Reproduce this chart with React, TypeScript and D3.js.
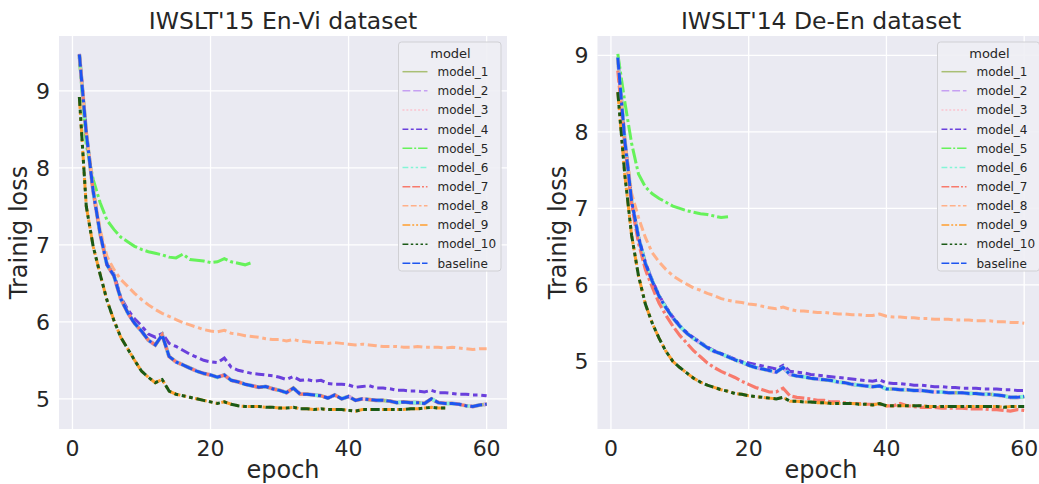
import React from "react";
import * as d3 from "d3";

// legend / hue order
const models = ["model_1", "model_2", "model_3", "model_4", "model_5", "model_6", "model_7", "model_8", "model_9", "model_10", "baseline"];
const colors = ["#a9bf74", "#c6a0f2", "#fbc3ce", "#6a40dc", "#66f25a", "#84f5d6", "#f87a6c", "#ffb088", "#ff9f2e", "#1b5a16", "#1d55f0"];
// seaborn default style dashes (in units of line width)
const dashes = [
  [],
  [4, 1.5],
  [1, 1],
  [3, 1.25, 1.5, 1.25],
  [5, 1, 1, 1],
  [3, 1.25, 1.25, 1.25, 1.25, 1.25],
  [4, 1, 4, 1, 1, 1],
  [3, 1.25, 3, 1.25, 1.25, 1.25],
  [4, 1, 1, 1, 1, 1],
  [3, 1.25, 1.25, 1.25, 1.25, 1.25, 1.25, 1.25],
  [4, 1, 4, 1, 4, 1, 1, 1],
];
// light lines drawn a touch wider so they show as a halo under the blue one
const widths = [3.6, 3.8, 3.8, 3, 3, 3.6, 3.2, 3, 3, 3, 3];

const xTicks = [0, 20, 40, 60];

// ---- IWSLT'15 En-Vi (training loss per epoch, epoch 1..n) ----
const enviGroupA = [
  9.47, 8.45, 7.7, 7.15, 6.74, 6.6, 6.3, 6.12, 5.98, 5.88,
  5.76, 5.7, 5.83, 5.55, 5.48, 5.44, 5.4, 5.36, 5.33, 5.31,
  5.28, 5.31, 5.24, 5.22, 5.19, 5.17, 5.15, 5.16, 5.13, 5.11,
  5.08, 5.14, 5.06, 5.06, 5.05, 5.04, 5.01, 5.05, 5.0, 5.03,
  4.98, 5.0, 4.99, 4.98, 4.98, 4.97, 4.95, 4.96, 4.95, 4.95,
  4.94, 5.0, 4.95, 4.94, 4.94, 4.93, 4.91, 4.9, 4.92, 4.93,
];
const enviModel4 = [
  9.48, 8.46, 7.71, 7.16, 6.75, 6.62, 6.32, 6.16, 6.04, 5.95,
  5.84, 5.8, 5.85, 5.72, 5.68, 5.63, 5.58, 5.54, 5.5, 5.48,
  5.47, 5.53, 5.41, 5.37, 5.35, 5.33, 5.32, 5.31, 5.3, 5.28,
  5.25, 5.29, 5.24, 5.25, 5.23, 5.24, 5.2, 5.19, 5.19, 5.18,
  5.15, 5.16, 5.17, 5.14, 5.14, 5.13, 5.11, 5.11, 5.1, 5.1,
  5.09, 5.11, 5.08, 5.08, 5.07, 5.06, 5.06, 5.05, 5.05, 5.04,
];
const enviModel5 = [
  9.43, 8.3, 7.85, 7.55, 7.32, 7.2, 7.1, 7.04, 6.98, 6.94,
  6.91, 6.89, 6.87, 6.84, 6.83, 6.88, 6.81, 6.8, 6.79, 6.77,
  6.78, 6.82, 6.78, 6.76, 6.74, 6.77,
];
const enviModel8 = [
  9.46, 8.48, 7.75, 7.2, 6.85, 6.68, 6.55, 6.46, 6.37, 6.29,
  6.22, 6.16, 6.11, 6.07, 6.03, 5.99, 5.96, 5.93, 5.9, 5.88,
  5.87, 5.89, 5.85, 5.84, 5.82, 5.81, 5.8, 5.78, 5.77, 5.77,
  5.75, 5.77, 5.75, 5.74, 5.73, 5.73, 5.72, 5.73, 5.72, 5.71,
  5.7, 5.71, 5.7, 5.69, 5.68, 5.68, 5.68, 5.67, 5.67, 5.68,
  5.67, 5.67, 5.67, 5.66, 5.67, 5.66, 5.65, 5.64, 5.65, 5.65,
];
const enviGroupB = [
  8.92, 7.5, 6.98, 6.62, 6.28, 6.02, 5.8, 5.65, 5.5, 5.36,
  5.28, 5.21, 5.25, 5.1, 5.06, 5.04, 5.02, 5.0, 4.98, 4.96,
  4.94, 4.96, 4.93, 4.91, 4.9, 4.9, 4.9, 4.89, 4.89, 4.88,
  4.88, 4.89, 4.87, 4.87, 4.86, 4.87, 4.86, 4.86, 4.86, 4.85,
  4.84, 4.86, 4.86, 4.86, 4.86, 4.86, 4.86, 4.86, 4.87, 4.87,
  4.88, 4.89, 4.88, 4.88,
];

// ---- IWSLT'14 De-En ----
const deenGroupA = [
  8.97, 7.9, 7.1, 6.62, 6.28, 6.05, 5.85, 5.7, 5.57, 5.46,
  5.37, 5.3, 5.24, 5.18, 5.13, 5.1, 5.06, 5.02, 4.99, 4.95,
  4.92, 4.9, 4.88, 4.86, 4.92, 4.83, 4.81, 4.8, 4.78, 4.77,
  4.76, 4.75, 4.73, 4.72, 4.7, 4.69, 4.68, 4.67, 4.68, 4.64,
  4.64, 4.63, 4.63, 4.62, 4.62, 4.61, 4.6, 4.6, 4.59, 4.59,
  4.59, 4.58, 4.58, 4.57, 4.57, 4.56, 4.55, 4.53, 4.53, 4.54,
];
const deenModel4 = [
  8.97, 7.91, 7.11, 6.63, 6.29, 6.06, 5.86, 5.71, 5.58, 5.47,
  5.38, 5.31, 5.25, 5.19, 5.14, 5.1, 5.07, 5.03, 5.0, 4.98,
  4.96, 4.94, 4.92, 4.9, 4.95, 4.87, 4.86, 4.85, 4.83, 4.82,
  4.81, 4.8, 4.79, 4.78, 4.77, 4.76, 4.75, 4.74, 4.76, 4.72,
  4.71, 4.71, 4.7, 4.69, 4.69, 4.68, 4.67, 4.67, 4.66, 4.66,
  4.65, 4.65, 4.65, 4.64, 4.64, 4.64, 4.63, 4.63, 4.62, 4.62,
];
const deenModel5 = [
  9.02, 8.4, 7.85, 7.45, 7.28, 7.19, 7.13, 7.08, 7.03, 7.0,
  6.97, 6.95, 6.93, 6.92, 6.9, 6.88, 6.89,
];
const deenModel7 = [
  8.8, 7.85, 7.05, 6.55, 6.2, 5.97, 5.76, 5.6, 5.46, 5.34,
  5.24, 5.14, 5.06, 4.98, 4.92, 4.87, 4.83, 4.79, 4.74, 4.7,
  4.66, 4.63, 4.6, 4.6, 4.65, 4.55, 4.53, 4.52, 4.51, 4.49,
  4.49, 4.47, 4.47, 4.46, 4.45, 4.45, 4.44, 4.44, 4.44, 4.42,
  4.42, 4.45, 4.42, 4.41, 4.4, 4.4, 4.4, 4.39, 4.39, 4.39,
  4.39, 4.38, 4.38, 4.38, 4.37, 4.37, 4.36, 4.35, 4.37, 4.36,
];
const deenModel8 = [
  8.95, 7.9, 7.2, 6.88, 6.62, 6.42, 6.3, 6.2, 6.12, 6.06,
  6.01, 5.96, 5.93, 5.89, 5.86, 5.82, 5.8, 5.78, 5.77, 5.75,
  5.74, 5.72, 5.7, 5.69, 5.71, 5.68, 5.66, 5.66, 5.65, 5.64,
  5.64, 5.63, 5.62, 5.62, 5.61, 5.61, 5.6, 5.6, 5.62, 5.59,
  5.58, 5.58, 5.57, 5.57, 5.56, 5.56, 5.55, 5.55, 5.55, 5.54,
  5.54, 5.54, 5.53, 5.53, 5.53, 5.52, 5.52, 5.51, 5.51, 5.5,
];
const deenGroupB = [
  8.52, 7.45, 6.65, 6.12, 5.75, 5.5, 5.3, 5.13, 5.0, 4.92,
  4.85, 4.78, 4.73, 4.69, 4.66, 4.63, 4.61, 4.58, 4.57, 4.55,
  4.54, 4.53, 4.52, 4.51, 4.53, 4.48, 4.48, 4.47, 4.47, 4.46,
  4.46, 4.45, 4.45, 4.45, 4.45, 4.44, 4.44, 4.43, 4.45, 4.42,
  4.42, 4.42, 4.42, 4.42, 4.42, 4.41, 4.41, 4.41, 4.41, 4.41,
  4.41, 4.41, 4.41, 4.41, 4.41, 4.41, 4.4, 4.41, 4.41, 4.41,
];

// series per model, in hue order
const enviSeries = [enviGroupA, enviGroupA, enviGroupA, enviModel4, enviModel5, enviGroupA, enviGroupA, enviModel8, enviGroupB, enviGroupB, enviGroupA];
const deenSeries = [deenGroupA, deenGroupA, deenGroupA, deenModel4, deenModel5, deenGroupA, deenModel7, deenModel8, deenGroupB, deenGroupB, deenGroupA];

const FONT = "DejaVu Sans, sans-serif";
const TEXT = "#262626";

type PanelProps = {
  id: string;
  title: string;
  series: number[][];
  left: number;
  right: number;
  yTicks: number[];
  labelX: number;
  legendX: number;
  legendW: number;
};

const Panel = ({ id, title, series, left, right, yTicks, labelX, legendX, legendW }: PanelProps) => {
  const top = 36;
  const bottom = 429;
  const all = series.flat();
  const lo = d3.min(all) as number;
  const hi = d3.max(all) as number;
  const pad = (hi - lo) * 0.05;
  const x = d3.scaleLinear().domain([1 - 59 * 0.05, 60 + 59 * 0.05]).range([left, right]);
  const y = d3.scaleLinear().domain([lo - pad, hi + pad]).range([bottom, top]);
  const line = d3
    .line<number>()
    .x((_, i) => x(i + 1))
    .y((d) => y(d));

  const legLw = 1.5;
  const legTop = 42;
  const legH = 229;
  const rowY = (i: number) => 71.7 + i * 19.16;

  return (
    <g>
      <defs>
        <clipPath id={id}>
          <rect x={left} y={top} width={right - left} height={bottom - top} />
        </clipPath>
      </defs>
      <rect x={left} y={top} width={right - left} height={bottom - top} fill="#eaeaf2" />
      {xTicks.map((t) => (
        <line key={"gx" + t} x1={x(t)} x2={x(t)} y1={top} y2={bottom} stroke="#fff" strokeWidth={1.3} />
      ))}
      {yTicks.map((t) => (
        <line key={"gy" + t} x1={left} x2={right} y1={y(t)} y2={y(t)} stroke="#fff" strokeWidth={1.3} />
      ))}
      <g clipPath={`url(#${id})`}>
        {series.map((s, i) => (
          <path
            key={models[i]}
            d={line(s) ?? ""}
            fill="none"
            stroke={colors[i]}
            strokeWidth={widths[i]}
            strokeDasharray={dashes[i].map((v) => v * 3).join(",")}
          />
        ))}
      </g>
      {xTicks.map((t) => (
        <text key={"tx" + t} x={x(t)} y={456} textAnchor="middle" fontSize={22} fill={TEXT} fontFamily={FONT}>
          {t}
        </text>
      ))}
      {yTicks.map((t) => (
        <text key={"ty" + t} x={left - 9} y={y(t)} dy="0.36em" textAnchor="end" fontSize={22} fill={TEXT} fontFamily={FONT}>
          {t}
        </text>
      ))}
      <text x={(left + right) / 2} y={29} textAnchor="middle" fontSize={23.5} fill={TEXT} fontFamily={FONT}>
        {title}
      </text>
      <text x={(left + right) / 2} y={478} textAnchor="middle" fontSize={24} fill={TEXT} fontFamily={FONT}>
        epoch
      </text>
      <text
        transform={`translate(${labelX},${(top + bottom) / 2}) rotate(-90)`}
        textAnchor="middle"
        fontSize={24}
        fill={TEXT}
        fontFamily={FONT}
      >
        Trainig loss
      </text>
      <g>
        <rect x={legendX} y={legTop} width={legendW} height={legH} rx={3} fill="#eeeef4" fillOpacity={0.9} stroke="#d0d0d4" strokeWidth={1} />
        <text x={legendX + 52} y={53.3} dy="0.36em" textAnchor="middle" fontSize={13} fill={TEXT} fontFamily={FONT}>
          model
        </text>
        {models.map((m, i) => (
          <g key={"lg" + m}>
            <line
              x1={legendX + 4}
              x2={legendX + 29}
              y1={rowY(i)}
              y2={rowY(i)}
              stroke={colors[i]}
              strokeWidth={legLw}
              strokeDasharray={dashes[i].map((v) => v * legLw * 1.3).join(",")}
            />
            <text x={legendX + 39} y={rowY(i)} dy="0.36em" fontSize={12} fill={TEXT} fontFamily={FONT}>
              {m}
            </text>
          </g>
        ))}
      </g>
    </g>
  );
};

export default function App() {
  return (
    <svg
      width={1039}
      height={484}
      style={{ position: "absolute", left: 0, top: 0, background: "#fff" }}
    >
      <Panel
        id="clipL"
        title="IWSLT'15 En-Vi dataset"
        series={enviSeries}
        left={59}
        right={507}
        yTicks={[5, 6, 7, 8, 9]}
        labelX={27}
        legendX={398.5}
        legendW={102.5}
      />
      <Panel
        id="clipR"
        title="IWSLT'14 De-En dataset"
        series={deenSeries}
        left={597.5}
        right={1044.5}
        yTicks={[5, 6, 7, 8, 9]}
        labelX={566}
        legendX={937.5}
        legendW={102}
      />
    </svg>
  );
}
